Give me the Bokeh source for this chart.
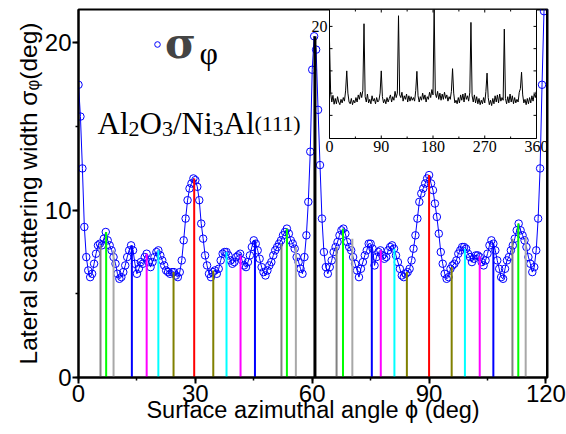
from bokeh.plotting import figure
from bokeh.models import (Range1d, SingleIntervalTicker, Legend, LegendItem, Label,
                          ColumnDataSource)
from bokeh.embed import file_html
from bokeh.resources import INLINE
import numpy as np

# ---------------- data ----------------
# main curve: sigma_phi (deg) at azimuth 0..120 deg, step 0.5 deg
sigma = [
    17.5, 15.6, 12.5, 9.0, 7.2, 6.4, 6.0, 6.2, 6.8, 7.4,
    7.9, 8.0, 7.9, 8.3, 8.7, 8.2, 7.9, 7.6, 7.2, 6.8,
    6.2, 5.9, 6.0, 6.3, 6.7, 7.2, 7.6, 7.9, 7.6, 6.8,
    6.2, 6.5, 6.9, 6.8, 7.2, 7.4, 6.9, 6.6, 6.9, 7.2,
    7.5, 7.6, 7.3, 7.0, 6.7, 6.4, 6.3, 6.2, 6.3, 6.3,
    6.1, 6.0, 6.3, 7.0, 8.2, 9.5, 10.6, 11.3, 11.6, 11.9,
    11.8, 11.4, 10.6, 9.2, 8.3, 7.3, 6.7, 6.2, 6.0, 6.3,
    6.4, 6.2, 6.5, 7.0, 7.4, 7.5, 7.5, 7.3, 7.0, 6.8,
    6.9, 7.2, 7.3, 7.4, 7.0, 6.7, 6.6, 6.9, 7.3, 7.8,
    8.2, 8.0, 7.6, 7.1, 6.6, 6.3, 6.1, 6.4, 6.7, 6.9,
    7.3, 7.6, 7.8, 8.0, 8.2, 8.5, 8.7, 8.9, 8.6, 8.2,
    8.0, 7.7, 7.2, 6.9, 6.5, 6.2, 7.2, 8.5, 10.5, 13.5,
    18.4, 20.4, 19.6, 16.0, 12.7, 9.5, 7.5, 6.6, 6.2, 6.6,
    7.0, 7.5, 7.8, 8.1, 8.5, 8.8, 8.9, 8.6, 8.1, 7.8,
    7.6, 7.2, 6.8, 6.4, 6.0, 6.5, 6.9, 7.3, 7.6, 8.0,
    8.0, 7.7, 6.7, 7.2, 7.5, 7.6, 7.3, 7.1, 7.2, 7.6,
    7.8, 7.9, 7.7, 7.3, 6.9, 6.5, 6.1, 6.0, 6.2, 6.3,
    6.5, 7.0, 7.7, 8.5, 9.5, 10.5, 11.0, 11.3, 11.6, 11.9,
    12.1, 11.6, 11.2, 10.4, 9.6, 8.6, 7.5, 6.8, 6.2, 5.9,
    6.0, 6.5, 6.7, 6.8, 7.0, 7.4, 7.6, 7.8, 7.8, 7.7,
    7.4, 7.2, 6.9, 7.1, 7.3, 7.3, 7.2, 6.9, 6.7, 7.0,
    7.4, 7.9, 8.2, 8.0, 7.6, 7.0, 6.5, 6.0, 5.9, 6.5,
    7.0, 7.2, 7.6, 7.9, 8.3, 8.8, 9.2, 8.8, 8.5, 8.2,
    7.8, 7.2, 6.8, 6.3, 6.6, 7.6, 9.5, 12.5, 17.5, 21.9,
    23.0,
]
angle = np.arange(len(sigma)) * 0.5

# vertical marker lines (position deg, top value deg)
line_pos = [5.65, 7.1, 9.0, 13.7, 17.5, 20.5, 24.4, 29.7, 34.6, 38.0, 41.6, 45.3,
            52.1, 53.5, 55.8, 60.7,
            66.25, 67.9, 70.3, 75.3, 77.6, 81.1, 84.3, 90.0, 95.8, 99.2, 103.0, 106.5,
            111.4, 112.9, 114.8, 120.4]
line_top = [7.9, 8.7, 7.6, 7.9, 7.4, 7.6, 6.3, 11.9, 6.4, 7.5, 7.3, 8.2,
            8.0, 8.9, 7.8, 20.4,
            7.8, 8.9, 8.3, 7.8, 7.6, 7.7, 6.3, 12.1, 6.6, 7.7, 7.25, 8.0,
            8.3, 9.2, 8.4, 22.0]
family_colors = ["#808080", "#00ff00", "#a8a8a8", "#0000ff", "#ff00ff", "#00ffff",
                 "#808000", "#ff0000", "#808000", "#00ffff", "#ff00ff", "#0000ff",
                 "#808080", "#00ff00", "#a8a8a8", "#000000"]
line_colors = family_colors * 2
line_widths = ([2] * 15 + [3]) * 2

# inset: full 0..360 deg scan, step 2 deg
inset_sigma = [
    16.8, 5.0, 3.0, 4.5, 2.5, 3.8, 2.6, 4.2, 3.0, 2.4,
    3.6, 2.8, 4.0, 3.2, 5.5, 10.0, 5.0, 3.0, 2.6, 3.8,
    2.4, 3.4, 2.8, 4.0, 3.0, 4.6, 3.6, 5.2, 4.0, 5.6,
    20.6, 4.2, 3.0, 4.8, 2.8, 3.6, 2.6, 4.4, 3.2, 3.8,
    2.6, 4.0, 3.0, 3.4, 5.0, 10.0, 4.2, 2.8, 3.6, 2.6,
    4.0, 3.0, 3.8, 4.6, 3.0, 4.2, 3.4, 5.4, 4.0, 5.0,
    22.4, 4.6, 4.0, 5.2, 3.2, 4.4, 3.6, 4.8, 3.0, 4.4,
    3.2, 4.2, 3.4, 4.0, 3.2, 5.6, 9.9, 4.4, 3.0, 4.2,
    3.4, 5.0, 3.6, 4.6, 3.0, 4.2, 3.6, 5.2, 4.0, 5.8,
    4.6, 24.5, 5.0, 4.0, 5.4, 3.6, 5.0, 3.4, 4.8, 3.6,
    5.2, 3.8, 4.6, 3.2, 4.2, 3.6, 5.4, 10.5, 5.0, 2.8,
    3.4, 2.6, 4.0, 2.8, 4.6, 3.4, 4.8, 3.0, 5.0, 3.6,
    4.4, 3.2, 5.2, 20.9, 4.4, 3.0, 4.6, 2.8, 4.2, 2.6,
    3.8, 2.4, 3.4, 2.6, 4.0, 2.8, 5.4, 9.5, 4.0, 2.4,
    3.4, 2.2, 3.8, 2.6, 4.4, 3.0, 4.6, 2.8, 4.8, 3.2,
    4.0, 3.4, 19.4, 3.8, 2.6, 4.2, 2.8, 4.8, 3.0, 4.4,
    2.6, 4.0, 2.8, 3.6, 3.0, 5.2, 6.0, 9.7, 4.6, 2.8,
    3.6, 2.4, 3.8, 2.6, 4.0, 2.8, 4.4, 3.2, 4.8, 4.0,
    5.6,
]
inset_angle = np.arange(len(inset_sigma)) * 2.0

inset_xticks = [0, 90, 180, 270, 360]
inset_xtick_labels = ["0", "90", "180", "270", "360"]
inset_xminor = [45, 135, 225, 315]
inset_yticks = [0, 5, 10, 15, 20]
inset_ylabel_ticks = [20]
inset_xlim = (0, 360)
inset_ylim = (-5.2, 23.8)

FONT = "Liberation Sans"
SERIF = "Liberation Serif"

# ---------------- main figure ----------------
W, H = 566, 434
BL, BR, BT, BB = 78, 19, 9, 57
p = figure(width=W, height=H, x_range=Range1d(0, 120.4), y_range=Range1d(0, 22),
           output_backend="svg", toolbar_location=None,
           min_border_left=BL, min_border_right=BR, min_border_top=BT, min_border_bottom=BB,
           outline_line_color="black", outline_line_width=2)
p.grid.visible = False

for ax in (p.xaxis[0], p.yaxis[0]):
    ax.axis_line_width = 2
    ax.major_tick_line_width = 2
    ax.minor_tick_line_width = 1.5
    ax.major_tick_out = 6
    ax.major_tick_in = 0
    ax.minor_tick_out = 3
    ax.minor_tick_in = 0
    ax.major_label_text_font = FONT
    ax.major_label_text_font_size = "24px"
    ax.major_label_text_color = "black"
    ax.axis_label_text_font = FONT
    ax.axis_label_text_font_style = "normal"
    ax.axis_label_text_color = "black"
    ax.major_label_standoff = 1

p.xaxis.ticker = SingleIntervalTicker(interval=30, num_minor_ticks=2)
p.yaxis.ticker = SingleIntervalTicker(interval=10, num_minor_ticks=2)
p.xaxis.axis_label = "Surface azimuthal angle \u03d5 (deg)"
p.yaxis.axis_label = "Lateral scattering width \u03c3\u1d69(deg)"
p.xaxis.axis_label_text_font_size = "23.5px"
p.yaxis.axis_label_text_font_size = "24.5px"
p.xaxis.axis_label_standoff = -8
p.yaxis.axis_label_standoff = 0

src = ColumnDataSource(dict(x=angle, y=sigma))
p.line("x", "y", source=src, line_color="#0000ff", line_width=1)
sc = p.scatter("x", "y", source=src, marker="circle", size=7.5, line_color="#0000ff",
               fill_color=None, line_width=1)

lsrc = ColumnDataSource(dict(x=line_pos, top=line_top, c=line_colors, w=line_widths,
                             b=[0] * len(line_pos)))
p.segment(x0="x", y0="b", x1="x", y1="top", source=lsrc, line_color="c", line_width="w")

legend = Legend(items=[LegendItem(label="\u03c3", renderers=[sc])],
                location=(72, 309), padding=0, margin=0, spacing=0,
                glyph_width=14, glyph_height=14, label_standoff=1,
                label_text_font="DejaVu Serif", label_text_font_size="42px",
                label_text_font_style="bold", border_line_color=None,
                background_fill_alpha=0)
p.add_layout(legend)
p.add_layout(Label(x=121, y=307, x_units="screen", y_units="screen", text="\u03c6",
                   text_font=SERIF, text_font_size="32px", text_color="black"))

# Al2O3/Ni3Al(111)
big, small = "31px", "22px"
parts = [("Al", 19, 254, big), ("2", 50, 249, small), ("O", 61, 254, big),
         ("3", 83.4, 249, small), ("/Ni", 94.4, 254, big), ("3", 134, 249, small),
         ("Al", 145, 254, big), ("(111)", 176, 254, small)]
for t, x, y, fs in parts:
    p.add_layout(Label(x=x, y=y, x_units="screen", y_units="screen", text=t,
                       text_font=SERIF, text_font_size=fs, text_color="black",
                       text_baseline="alphabetic"))

# ---------------- inset (own scales mapped into a box of the frame) ----------------
frame_w = W - BL - BR
frame_h = H - BT - BB
box_l, box_r, box_t, box_b = 251, 458, 0, 129        # inset frame box, px in main frame
kx = (box_r - box_l) / (inset_xlim[1] - inset_xlim[0])
ky = (box_b - box_t) / (inset_ylim[1] - inset_ylim[0])
p.extra_x_ranges = {"ix": Range1d(inset_xlim[0] - box_l / kx,
                                  inset_xlim[1] + (frame_w - box_r) / kx)}
p.extra_y_ranges = {"iy": Range1d(inset_ylim[0] - (frame_h - box_b) / ky,
                                  inset_ylim[1] + box_t / ky)}
IR = dict(x_range_name="ix", y_range_name="iy")

p.quad(left=[inset_xlim[0]], right=[inset_xlim[1]], bottom=[inset_ylim[0]],
       top=[inset_ylim[1]], fill_color="white", line_color="black", line_width=1, **IR)
p.line(inset_angle, inset_sigma, line_color="black", line_width=1, **IR)

tk, tkm = 3, 2
x0, x1 = inset_xlim
y0, y1 = inset_ylim
xt = inset_xticks + inset_xminor
xl = [tk] * len(inset_xticks) + [tkm] * len(inset_xminor)
p.segment(x0=xt, x1=xt, y0=[y0] * len(xt), y1=[y0 + l / ky for l in xl],
          line_color="black", line_width=1, **IR)
p.segment(x0=xt, x1=xt, y0=[y1] * len(xt), y1=[y1 - l / ky for l in xl],
          line_color="black", line_width=1, **IR)
p.segment(x0=[x0] * len(inset_yticks), x1=[x0 + tk / kx] * len(inset_yticks),
          y0=inset_yticks, y1=inset_yticks, line_color="black", line_width=1, **IR)
p.segment(x0=[x1] * len(inset_yticks), x1=[x1 - tk / kx] * len(inset_yticks),
          y0=inset_yticks, y1=inset_yticks, line_color="black", line_width=1, **IR)
p.text(x=inset_xticks, y=[y0] * len(inset_xticks), text=inset_xtick_labels,
       text_align="center", text_baseline="top", y_offset=2,
       text_font=FONT, text_font_size="16px", text_color="black", **IR)
p.text(x=[x0] * len(inset_ylabel_ticks), y=inset_ylabel_ticks,
       text=[str(v) for v in inset_ylabel_ticks], text_align="right",
       text_baseline="middle", x_offset=-2,
       text_font=FONT, text_font_size="16px", text_color="black", **IR)

open("out.html", "w").write(file_html(p, INLINE))
